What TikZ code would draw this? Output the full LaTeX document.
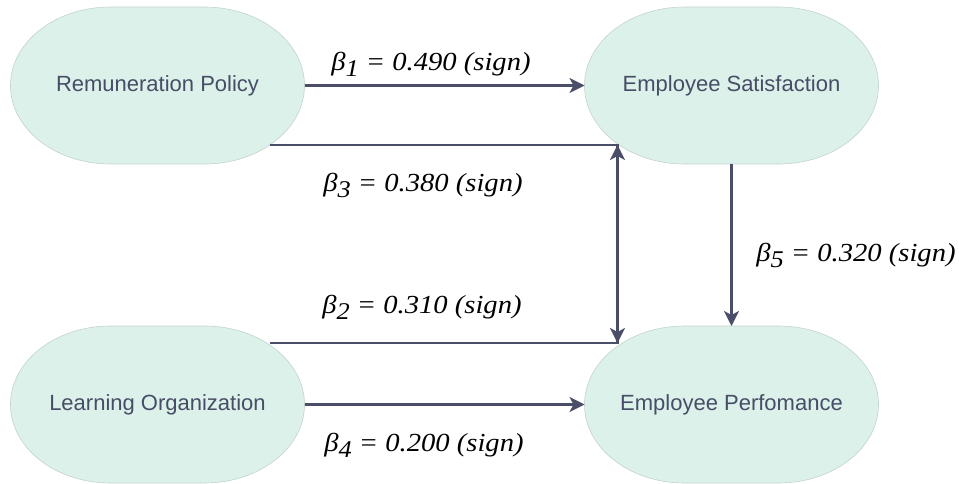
\documentclass[tikz,border=0pt]{standalone}
\usepackage{fontspec}
\setmainfont{Liberation Sans}
\newfontfamily\betafont[FakeStretch=1.1]{Liberation Serif}
\usepackage{xcolor}
\usepackage{tikz}
\usetikzlibrary{arrows.meta}
\usetikzlibrary{positioning}
\usetikzlibrary{backgrounds}

\definecolor{mint}{HTML}{DCF1EA}
\definecolor{mintline}{HTML}{C3D3CD}
\definecolor{slate}{HTML}{4A4E69}
\definecolor{slatetext}{HTML}{474D66}

\newcommand{\betasub}[1]{β\raisebox{-6pt}{\fontsize{24}{24}\selectfont #1}}

\begin{document}
\begin{tikzpicture}[x=1pt,y=1pt,->,>={Stealth[length=15pt,width=15pt,inset=4pt]},
  node distance=280pt,
  var node/.style={rectangle,minimum width=294pt,minimum height=157pt,inner sep=0pt,
    outer sep=0pt,text=slatetext,font=\fontsize{22}{26}\selectfont},
  stadium/.style={arrows=-,fill=mint,draw=mintline,line width=0.6pt},
  link/.style={draw=slate,line width=2.2pt},
  beta label/.style={text=black,font=\betafont\itshape\fontsize{26}{30}\selectfont}]

  \useasboundingbox (0,0) rectangle (959,483);

  \node[var node] (rp) at (157.5,397.5) {Remuneration Policy};
  \node[var node] (es) [right=of rp] {Employee Satisfaction};
  \node[var node] (lo) [below=162pt of rp] {Learning Organization};
  \node[var node] (ep) [right=of lo] {Employee Perfomance};

  % rounded ends behind the texts
  \begin{scope}[on background layer]
    \foreach \n in {rp,es,lo,ep}
      \path[stadium] ([xshift=100pt]\n.north west) -- ([xshift=-100pt]\n.north east)
        arc[start angle=90,end angle=-90,x radius=100pt,y radius=78.5pt]
        -- ([xshift=100pt]\n.south west)
        arc[start angle=270,end angle=90,x radius=100pt,y radius=78.5pt] -- cycle;
  \end{scope}

  \coordinate (c3) at ([xshift=-35pt,yshift=19pt]rp.south east);
  \coordinate (t3) at ([xshift=33pt,yshift=19pt]es.south west);
  \coordinate (c2) at ([xshift=-35pt,yshift=-17pt]lo.north east);
  \coordinate (t2) at ([xshift=33pt,yshift=-17pt]ep.north west);

  \draw[link] (rp) -- (es);
  \draw[link] (lo) -- (ep);
  \draw[link] (es) -- (ep);
  \draw[link] (c3) -- (t3) -- (t2);
  \draw[link] (c2) -- (t2) -- (t3);

  \node[beta label] (l1) at (431,419) {\betasub{1} = 0.490 (sign)};
  \node[beta label] (l3) at (423,298) {\betasub{3} = 0.380 (sign)};
  \node[beta label] (l2) at (422,176) {\betasub{2} = 0.310 (sign)};
  \node[beta label] (l4) at (424,38) {\betasub{4} = 0.200 (sign)};
  \node[beta label] (l5) at (856,228) {\betasub{5} = 0.320 (sign)};
\end{tikzpicture}
\end{document}
